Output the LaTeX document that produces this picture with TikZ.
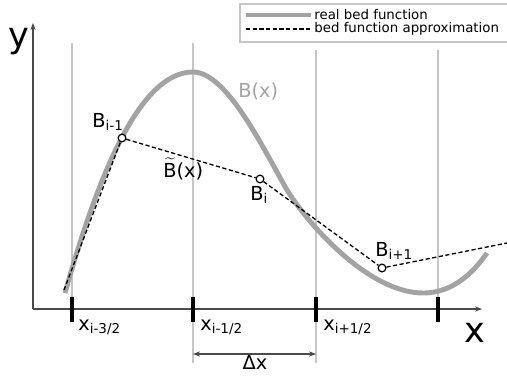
\documentclass[tikz,border=0pt]{standalone}
\usepackage{fontspec}
\setmainfont{DejaVu Sans}
\usepackage{tikz}
\usetikzlibrary{arrows.meta, positioning}
\definecolor{my_darkgray}{HTML}{4A4A4A}
\definecolor{my_midgray}{HTML}{A3A3A3}
\definecolor{my_lightgray}{HTML}{C6C6C6}

\begin{document}
\begin{tikzpicture}[
    x=0.02cm, y=-0.02cm,
    bed/.style={my_midgray, line width=2.8pt},
    approx/.style={black, line width=0.75pt, dash pattern=on 2.4pt off 1.4pt},
    cell/.style={my_lightgray, line width=0.6pt},
    tickmark/.style={black, line width=1.8pt},
    axis/.style={my_darkgray, line width=0.6pt, -{Stealth[length=4pt, width=3pt]}},
    bpoint/.style={circle, draw=black, fill=white, line width=0.7pt, minimum size=4.4pt, inner sep=0pt},
    lbl/.style={font=\fontsize{11}{13}\selectfont, inner sep=0pt},
    axlbl/.style={font=\fontsize{20}{24}\selectfont, inner sep=0pt},
    leglbl/.style={font=\fontsize{7.6}{9}\selectfont, inner sep=0pt, anchor=west}
]
\useasboundingbox (0, 0) rectangle (507, 376);

% ---------------------------------------------------------------
%  Zellgrenzen x_{i-3/2} ... x_{i+3/2}, Bettfunktion und ihre
%  stueckweise lineare Naeherung durch die Zellwerte B_i
% ---------------------------------------------------------------

% Zellgrenzen
\draw[cell] (72, 43) -- (72, 309);
\draw[cell] (193, 43) -- (193, 363);
\draw[cell] (316, 50) -- (316, 363);
\draw[cell] (438, 50) -- (438, 309);

% Achsen
\coordinate (origin) at (33, 309);
\coordinate (xend) at (482, 309);
\coordinate (yend) at (33, 23);
\draw[axis] (origin) -- (xend);
\draw[axis] (origin) -- (yend);
\node[axlbl, anchor=base west] (ylabel) at (8, 47) {y};
\node[axlbl, anchor=base west] (xlabel) at (464, 342) {x};

% Teilstriche
\foreach \x in {72, 193, 316, 438}
    \draw[tickmark] (\x, 297) -- (\x, 322);
\node[lbl, anchor=base west] (xim32) at (78, 330) {x\textsubscript{i-3/2}};
\node[lbl, anchor=base west] (xim12) at (200, 330) {x\textsubscript{i-1/2}};
\node[lbl, anchor=base west] (xip12) at (323, 330) {x\textsubscript{i+1/2}};

% Zellbreite
\coordinate (dxl) at (193, 354);
\coordinate (dxr) at (316, 354);
\draw[my_darkgray, line width=0.6pt, {Stealth[length=4pt, width=3pt]}-{Stealth[length=4pt, width=3pt]}] (dxl) -- (dxr);
\node[lbl, anchor=base] (dx) at (255, 369) {Δx};

% reale Bettfunktion
\draw[bed] (65, 293) .. controls (98, 175) and (140, 72) .. (193, 72)
    .. controls (227, 72) and (264, 150) .. (287, 190)
    .. controls (310, 227) and (370, 293) .. (423, 293)
    .. controls (455, 293) and (475, 270) .. (487, 253);
\node[lbl, my_midgray, anchor=base west] (Bx) at (238, 97) {B(x)};

% Naeherung
\node[bpoint] (Bim1) at (122, 138) {};
\node[bpoint] (Bi) at (260, 179) {};
\node[bpoint] (Bip1) at (382, 268) {};
\coordinate (bstart) at (64, 290);
\coordinate (bend) at (512, 242);
\draw[approx] (bstart) -- (Bim1) -- (Bi) -- (Bip1) -- (bend);
\node[lbl, anchor=base west] (Bim1lbl) at (92, 127) {B\textsubscript{i-1}};
\node[lbl, anchor=base west] (Bilbl) at (250, 200) {B\textsubscript{i}};
\node[lbl, anchor=base west] (Bip1lbl) at (375, 256) {B\textsubscript{i+1}};
\node[lbl, anchor=base west] (Btilde) at (163, 177) {$\widetilde{\hbox{B}}$(x)};

% Legende
\draw[my_lightgray, line width=1.2pt, fill=white] (240, 4) rectangle (512, 42);
\coordinate (leg1a) at (246, 15);
\coordinate (leg1b) at (311, 15);
\coordinate (leg2a) at (246, 29);
\coordinate (leg2b) at (311, 29);
\draw[bed] (leg1a) -- (leg1b);
\draw[approx] (leg2a) -- (leg2b);
\node[leglbl] (leg1) at (314, 15) {real bed function};
\node[leglbl] (leg2) at (314, 29) {bed function approximation};

\end{tikzpicture}
\end{document}
